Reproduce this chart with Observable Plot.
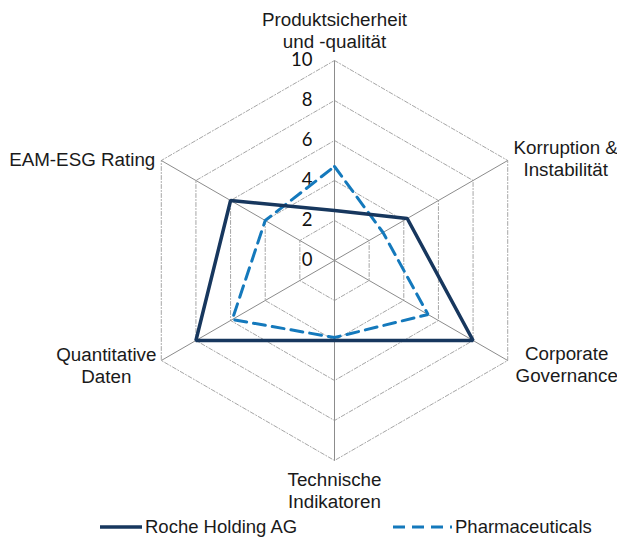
<!DOCTYPE html>
<html><head><meta charset="utf-8">
<script src="https://cdn.jsdelivr.net/npm/d3@7"></script>
<script src="https://cdn.jsdelivr.net/npm/@observablehq/plot@0.6"></script>
<style>
body{margin:0;background:#fff;font-family:"Liberation Sans",Arial,sans-serif;}
#wrap{position:relative;width:617px;height:537px;overflow:hidden;}
#legend{position:absolute;left:0;top:510px;width:617px;height:27px;font-size:18.5px;color:#1a1a1a;}
.item{position:absolute;top:6px;display:flex;align-items:center;height:22px;}
.item svg{margin-right:3px;}
</style></head><body>
<div id="wrap"><div id="chart"></div><div id="legend"></div></div>
<script>
// ---- data ----
const axisLabels = ["Produktsicherheit\nund -qualität", "Korruption &\nInstabilität", "Corporate\nGovernance", "Technische\nIndikatoren", "Quantitative\nDaten", "EAM-ESG Rating"];
const rocheValues = [2.5, 4.2, 8.0, 4.0, 8.0, 6.0];
const pharmaValues = [4.7, 2.8, 5.4, 3.85, 5.9, 4.0];
const tickValues = [0, 2, 4, 6, 8, 10];
const seriesNames = ["Roche Holding AG", "Pharmaceuticals"];

// ---- styles / layout ----
const W = 617, H = 518, CX = 334, CY = 260, PX = 20; // px per unit
const colors = {roche: "#17375E", pharma: "#1479BC", grid: "#A6A6A6", spoke: "#8C8C8C", text: "#1a1a1a"};
const labelFont = 18.8;
const labelOffsets = [
  {dx: 0, dy: -31, anchor: "middle"},
  {dx: 58, dy: -3, anchor: "middle"},
  {dx: 59, dy: 3, anchor: "middle"},
  {dx: 0, dy: 29, anchor: "middle"},
  {dx: -55, dy: 4, anchor: "middle"},
  {dx: -6, dy: -2, anchor: "end"}
];

const maxV = d3.max(tickValues);
const ang = i => (90 - 60 * i) * Math.PI / 180;
const px = (v, i) => v * Math.cos(ang(i));
const py = (v, i) => v * Math.sin(ang(i));

const gridPts = tickValues.filter(t => t > 0).flatMap(t => axisLabels.map((_, i) => ({t, i})));
const spokes = axisLabels.map((_, i) => ({i}));
const rochePts = rocheValues.map((v, i) => ({v, i}));
const pharmaPts = pharmaValues.map((v, i) => ({v, i}));
const labelData = axisLabels.map((name, i) => ({name, i}));

const labelMarks = labelData.map(d => Plot.text([d], {
  x: e => px(maxV, e.i), y: e => py(maxV, e.i), text: "name",
  dx: labelOffsets[d.i].dx, dy: labelOffsets[d.i].dy, textAnchor: labelOffsets[d.i].anchor,
  lineAnchor: "middle", fontSize: labelFont, fill: colors.text, lineHeight: 1.17
}));

const chart = Plot.plot({
  width: W, height: H,
  marginTop: 0, marginBottom: 0, marginLeft: 0, marginRight: 0,
  x: {domain: [-CX / PX, (W - CX) / PX], axis: null},
  y: {domain: [-(H - CY) / PX, CY / PX], axis: null},
  style: {fontFamily: "'Liberation Sans', Arial, sans-serif", background: "transparent"},
  marks: [
    Plot.line(gridPts, {x: d => px(d.t, d.i), y: d => py(d.t, d.i), z: "t", curve: "linear-closed",
      stroke: colors.grid, strokeWidth: 1, strokeDasharray: "4,2,1,2"}),
    Plot.link(spokes, {x1: 0, y1: 0, x2: d => px(maxV, d.i), y2: d => py(maxV, d.i), stroke: colors.spoke, strokeWidth: 1}),
    Plot.text(tickValues, {x: 0, y: d => d, text: d => String(d), textAnchor: "end", dx: -22,
      fontSize: 18.5, fontFamily: "Lato, 'Open Sans', sans-serif", fill: "#111"}),
    Plot.line(pharmaPts, {x: d => px(d.v, d.i), y: d => py(d.v, d.i), curve: "linear-closed",
      stroke: colors.pharma, strokeWidth: 3, strokeDasharray: "12,7", strokeLinejoin: "miter"}),
    Plot.line(rochePts, {x: d => px(d.v, d.i), y: d => py(d.v, d.i), curve: "linear-closed",
      stroke: colors.roche, strokeWidth: 3.5, strokeLinejoin: "miter"}),
    ...labelMarks
  ]
});
document.getElementById("chart").appendChild(chart);

// legend
const legend = document.getElementById("legend");
const legendItems = [
  {name: seriesNames[0], color: colors.roche, dash: null, left: 100, w: 42, sw: 3.5},
  {name: seriesNames[1], color: colors.pharma, dash: "12,7", left: 393, w: 59, sw: 3}
];
legendItems.forEach(it => {
  const div = document.createElement("div");
  div.className = "item";
  div.style.left = it.left + "px";
  div.innerHTML = `<svg width="${it.w}" height="10"><line x1="0" y1="5" x2="${it.w}" y2="5" stroke="${it.color}" stroke-width="${it.sw}" ${it.dash ? `stroke-dasharray="${it.dash}"` : ""}/></svg><span>${it.name}</span>`;
  legend.appendChild(div);
});
</script></body></html>
